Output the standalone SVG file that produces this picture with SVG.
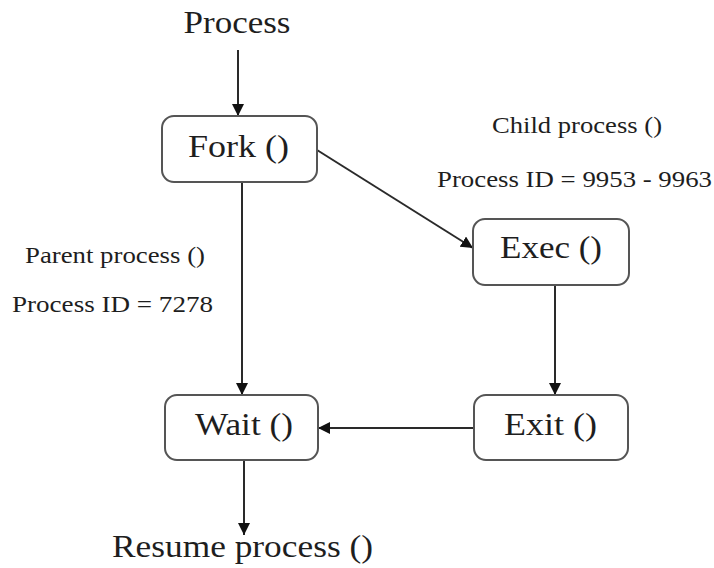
<svg xmlns="http://www.w3.org/2000/svg" width="714" height="568" viewBox="0 0 714 568">
<style>
.box{fill:#fff;stroke:#555;stroke-width:2}
.lbl{font-family:"Liberation Serif","Times New Roman",serif;fill:#1e1e1e;text-anchor:middle}
.big{font-size:32px}
.small{font-size:24px}
.conn{stroke:#2a2a2a;stroke-width:2;fill:none;marker-end:url(#arr)}
</style>
<defs>
<marker id="arr" markerUnits="userSpaceOnUse" markerWidth="12" markerHeight="12" viewBox="0 0 12 12" refX="12" refY="6" orient="auto">
<path d="M0,0 L12,6 L0,12 Z" fill="#111"/>
</marker>
</defs>
<rect width="714" height="568" fill="#fff"/>
<g id="connectors">
<line class="conn" x1="238" y1="50" x2="238" y2="116"/>
<line class="conn" x1="242" y1="182" x2="242" y2="395"/>
<line class="conn" x1="317" y1="150" x2="473" y2="248"/>
<line class="conn" x1="555" y1="285" x2="555" y2="395"/>
<line class="conn" x1="474" y1="428" x2="318" y2="428"/>
<line class="conn" x1="244" y1="460" x2="244" y2="535"/>
</g>
<g id="process-label">
<text class="lbl big" x="237" y="33" textLength="107" lengthAdjust="spacingAndGlyphs">Process</text>
</g>
<g id="fork">
<rect class="box" x="162" y="116" width="155" height="66" rx="12"/>
<text class="lbl big" x="238.5" y="157" textLength="101" lengthAdjust="spacingAndGlyphs">Fork ()</text>
</g>
<g id="exec">
<rect class="box" x="473" y="219" width="156" height="66" rx="12"/>
<text class="lbl big" x="551" y="258" textLength="102" lengthAdjust="spacingAndGlyphs">Exec ()</text>
</g>
<g id="wait">
<rect class="box" x="165" y="395" width="153" height="65" rx="12"/>
<text class="lbl big" x="244" y="435" textLength="98" lengthAdjust="spacingAndGlyphs">Wait ()</text>
</g>
<g id="exit">
<rect class="box" x="474" y="395" width="154" height="65" rx="12"/>
<text class="lbl big" x="550.5" y="435" textLength="93" lengthAdjust="spacingAndGlyphs">Exit ()</text>
</g>
<g id="child-label">
<text class="lbl small" x="577" y="133" textLength="170" lengthAdjust="spacingAndGlyphs">Child process ()</text>
<text class="lbl small" x="574.5" y="187" textLength="275" lengthAdjust="spacingAndGlyphs">Process ID = 9953 - 9963</text>
</g>
<g id="parent-label">
<text class="lbl small" x="115" y="263" textLength="180" lengthAdjust="spacingAndGlyphs">Parent process ()</text>
<text class="lbl small" x="112.5" y="312" textLength="201" lengthAdjust="spacingAndGlyphs">Process ID = 7278</text>
</g>
<g id="resume-label">
<text class="lbl big" x="242.5" y="557" textLength="261" lengthAdjust="spacingAndGlyphs">Resume process ()</text>
</g>
</svg>
